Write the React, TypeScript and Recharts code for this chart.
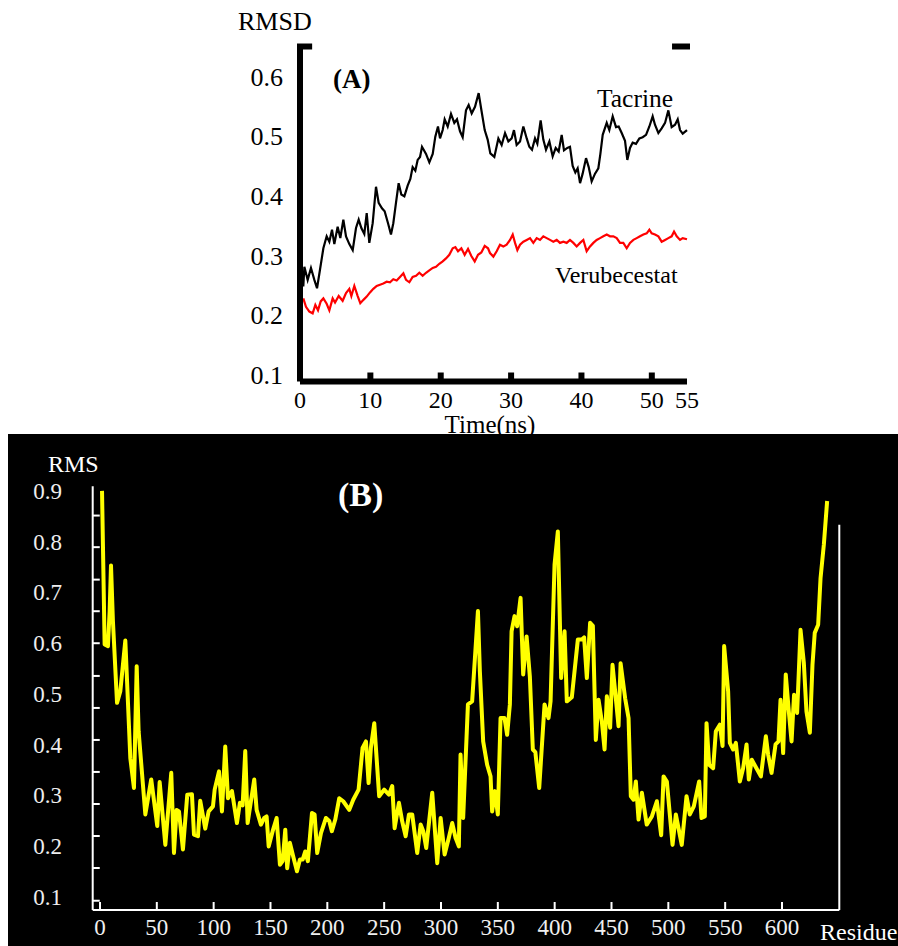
import { LineChart, Line, XAxis, YAxis, ReferenceLine } from "recharts";

const SERIF = '"Liberation Serif", "Times New Roman", serif';

// ---- (A) RMSD over time ----
const timeTicks = [0, 10, 20, 30, 40, 50, 55];
const rmsdTicks = [0.1, 0.2, 0.3, 0.4, 0.5, 0.6];
const timeDomain: [number, number] = [0, 55];
const rmsdDomain: [number, number] = [0.0888, 0.65];

// [time ns, rmsd]
const tacrineRmsd: [number, number][] = [
  [0.47, 0.248], [0.62, 0.281], [1.09, 0.259], [1.56, 0.279], [2.04, 0.259], [2.42, 0.245], [2.84, 0.276],
  [3.32, 0.312], [3.79, 0.332], [4.17, 0.323], [4.55, 0.343], [4.88, 0.319], [5.35, 0.348], [5.73, 0.329],
  [6.16, 0.36], [6.54, 0.332], [7.01, 0.319], [7.49, 0.309], [7.96, 0.346], [8.34, 0.36], [8.72, 0.346],
  [9.14, 0.336], [9.48, 0.371], [9.85, 0.321], [10.33, 0.354], [10.8, 0.415], [11.18, 0.388], [11.65, 0.379],
  [12.03, 0.374], [12.51, 0.354], [12.93, 0.335], [13.26, 0.354], [13.64, 0.388], [14.02, 0.421], [14.4, 0.402],
  [14.83, 0.399], [15.3, 0.417], [15.68, 0.428], [16.01, 0.448], [16.39, 0.442], [16.72, 0.46], [17.06, 0.465],
  [17.34, 0.482], [17.91, 0.47], [18.38, 0.456], [18.86, 0.47], [19.23, 0.499], [19.61, 0.516], [19.9, 0.496],
  [20.28, 0.51], [20.56, 0.528], [20.99, 0.516], [21.46, 0.537], [21.93, 0.522], [22.31, 0.528], [22.74, 0.508],
  [23.12, 0.498], [23.59, 0.543], [23.97, 0.552], [24.4, 0.538], [24.87, 0.549], [25.39, 0.572], [25.77, 0.544],
  [26.25, 0.51], [26.67, 0.494], [27.05, 0.471], [27.62, 0.465], [28.19, 0.496], [28.66, 0.485], [29.14, 0.505],
  [29.61, 0.491], [30.08, 0.496], [30.41, 0.51], [30.79, 0.485], [31.27, 0.491], [31.74, 0.516], [32.22, 0.496],
  [32.59, 0.482], [32.97, 0.477], [33.4, 0.496], [33.73, 0.487], [34.2, 0.526], [34.58, 0.494], [34.96, 0.477],
  [35.44, 0.491], [35.91, 0.466], [36.34, 0.48], [36.76, 0.474], [37.19, 0.502], [37.52, 0.476], [37.99, 0.48],
  [38.37, 0.482], [38.75, 0.45], [39.13, 0.439], [39.46, 0.446], [39.8, 0.421], [40.17, 0.437], [40.65, 0.463],
  [41.03, 0.448], [41.45, 0.424], [41.93, 0.437], [42.4, 0.446], [42.69, 0.47], [43.02, 0.502], [43.59, 0.522],
  [43.96, 0.51], [44.44, 0.533], [44.91, 0.515], [45.29, 0.516], [45.72, 0.505], [46.19, 0.492], [46.52, 0.46],
  [46.9, 0.48], [47.28, 0.489], [47.75, 0.487], [48.23, 0.496], [48.7, 0.498], [49.18, 0.502], [49.65, 0.516],
  [50.12, 0.533], [50.45, 0.519], [50.93, 0.505], [51.4, 0.513], [51.88, 0.522], [52.35, 0.543], [52.82, 0.515],
  [53.3, 0.519], [53.68, 0.528], [54.01, 0.51], [54.39, 0.504], [55, 0.51],
];

const verubecestatRmsd: [number, number][] = [
  [0.47, 0.228], [0.85, 0.214], [1.33, 0.206], [1.8, 0.203], [2.18, 0.217], [2.56, 0.208], [2.94, 0.223],
  [3.32, 0.228], [3.79, 0.219], [4.17, 0.208], [4.64, 0.228], [4.98, 0.221], [5.5, 0.232], [6.06, 0.224],
  [6.54, 0.237], [7.01, 0.244], [7.3, 0.232], [7.72, 0.249], [8.2, 0.232], [8.57, 0.22], [9.05, 0.226],
  [9.48, 0.231], [9.95, 0.238], [10.42, 0.244], [10.9, 0.249], [11.37, 0.251], [11.84, 0.253], [12.32, 0.256],
  [12.79, 0.255], [13.26, 0.26], [13.74, 0.258], [14.21, 0.264], [14.69, 0.27], [15.07, 0.259], [15.54, 0.255],
  [16.01, 0.264], [16.49, 0.266], [16.96, 0.271], [17.43, 0.266], [17.91, 0.271], [18.38, 0.275], [18.86, 0.279],
  [19.33, 0.281], [19.8, 0.286], [20.28, 0.29], [20.75, 0.295], [21.22, 0.301], [21.7, 0.312], [22.08, 0.314],
  [22.46, 0.307], [22.93, 0.312], [23.4, 0.301], [23.88, 0.311], [24.35, 0.299], [24.83, 0.29], [25.3, 0.301],
  [25.77, 0.305], [26.25, 0.316], [26.72, 0.312], [27.0, 0.304], [27.48, 0.298], [27.95, 0.307], [28.42, 0.318],
  [28.9, 0.315], [29.37, 0.318], [29.85, 0.326], [30.23, 0.335], [30.56, 0.321], [30.89, 0.309], [31.27, 0.318],
  [31.74, 0.323], [32.22, 0.326], [32.69, 0.329], [33.16, 0.321], [33.64, 0.329], [34.11, 0.326], [34.58, 0.332],
  [35.06, 0.329], [35.53, 0.326], [36.0, 0.323], [36.48, 0.326], [36.95, 0.321], [37.43, 0.323], [37.9, 0.321],
  [38.37, 0.326], [38.85, 0.321], [39.32, 0.315], [39.8, 0.321], [40.27, 0.326], [40.74, 0.307], [41.22, 0.315],
  [41.69, 0.321], [42.16, 0.326], [42.64, 0.329], [43.11, 0.332], [43.59, 0.335], [44.06, 0.332], [44.53, 0.332],
  [45.01, 0.329], [45.48, 0.321], [45.95, 0.321], [46.43, 0.312], [46.9, 0.321], [47.38, 0.326], [47.85, 0.329],
  [48.32, 0.332], [48.8, 0.335], [49.27, 0.337], [49.65, 0.343], [49.98, 0.337], [50.45, 0.335], [50.93, 0.332],
  [51.4, 0.323], [51.88, 0.326], [52.35, 0.329], [52.82, 0.332], [53.16, 0.34], [53.54, 0.332], [54.01, 0.326],
  [54.39, 0.329], [55, 0.327],
];

// ---- (B) RMS per residue ----
const residueTicks = [0, 50, 100, 150, 200, 250, 300, 350, 400, 450, 500, 550, 600];
const rmsTicks = [0.1, 0.2, 0.3, 0.4, 0.5, 0.6, 0.7, 0.8, 0.9];
// the small marks on the left axis don't line up with the labels
const rmsMinorMarks = [0.0919, 0.1564, 0.2195, 0.2826, 0.3458, 0.4089, 0.472, 0.5351, 0.5996, 0.6627, 0.725, 0.789, 0.8513];
const residueDomain: [number, number] = [-6.4, 650.4];
const rmsDomain: [number, number] = [0.0736, 0.909];

// [residue, rms]
const residueRms: [number, number][] = [
  [1.8, 0.9], [4.1, 0.597], [7.0, 0.594], [8.5, 0.663], [9.7, 0.753], [11.4, 0.643], [15.0, 0.482], [17.9, 0.505],
  [22.3, 0.605], [26.7, 0.373], [29.9, 0.314], [32.3, 0.554], [34.0, 0.426], [39.9, 0.262], [45.1, 0.331],
  [50.4, 0.239], [52.5, 0.326], [57.5, 0.202], [62.7, 0.344], [65.1, 0.186], [67.4, 0.271], [69.5, 0.268],
  [73.0, 0.193], [76.8, 0.301], [80.9, 0.302], [82.7, 0.222], [86.2, 0.219], [88.2, 0.289], [92.6, 0.234],
  [95.6, 0.268], [99.4, 0.278], [100.9, 0.311], [104.7, 0.347], [107.3, 0.268], [110.2, 0.396], [112.6, 0.294],
  [116.1, 0.308], [120.5, 0.245], [123.1, 0.285], [125.5, 0.28], [127.8, 0.387], [129.9, 0.245], [132.8, 0.288],
  [135.7, 0.331], [137.8, 0.271], [141.6, 0.242], [144.5, 0.255], [146.6, 0.258], [148.4, 0.199], [151.9, 0.229],
  [155.4, 0.255], [158.3, 0.163], [160.7, 0.17], [163.0, 0.232], [164.7, 0.156], [167.1, 0.206], [170.0, 0.179],
  [173.3, 0.15], [175.9, 0.173], [178.3, 0.173], [180.6, 0.189], [182.9, 0.17], [186.5, 0.265], [188.8, 0.262],
  [191.1, 0.186], [194.4, 0.225], [198.8, 0.255], [201.7, 0.249], [204.0, 0.229], [207.0, 0.252], [210.5, 0.294],
  [214.0, 0.288], [219.3, 0.271], [222.8, 0.291], [227.5, 0.311], [231.0, 0.393], [234.0, 0.406], [236.3, 0.324],
  [238.3, 0.393], [241.3, 0.442], [245.6, 0.298], [250.0, 0.311], [254.2, 0.301], [257.1, 0.318], [259.2, 0.235],
  [263.0, 0.285], [265.9, 0.248], [268.9, 0.219], [271.8, 0.262], [274.7, 0.262], [279.1, 0.186], [282.1, 0.242],
  [284.4, 0.229], [287.0, 0.196], [292.3, 0.305], [296.7, 0.166], [299.7, 0.255], [303.2, 0.183], [306.9, 0.216],
  [309.9, 0.245], [312.8, 0.216], [315.7, 0.199], [317.2, 0.38], [319.5, 0.255], [323.7, 0.479], [327.4, 0.485],
  [332.5, 0.663], [334.2, 0.544], [337.1, 0.406], [340.6, 0.36], [343.6, 0.337], [345.0, 0.268], [347.4, 0.308],
  [350.0, 0.262], [352.4, 0.452], [355.9, 0.452], [358.2, 0.419], [360.6, 0.479], [362.1, 0.623], [364.7, 0.653],
  [367.0, 0.633], [370.0, 0.689], [372.3, 0.538], [375.3, 0.613], [378.2, 0.533], [380.8, 0.39], [383.0, 0.385],
  [386.4, 0.314], [391.1, 0.479], [394.6, 0.452], [396.4, 0.485], [399.9, 0.755], [402.8, 0.82], [405.7, 0.531],
  [408.7, 0.623], [410.7, 0.485], [415.1, 0.493], [420.4, 0.607], [423.9, 0.607], [425.9, 0.611], [428.3, 0.531],
  [431.2, 0.64], [433.6, 0.634], [436.2, 0.409], [438.6, 0.488], [441.5, 0.445], [443.9, 0.39], [445.9, 0.495],
  [448.8, 0.433], [450.9, 0.557], [453.2, 0.505], [456.2, 0.436], [458.0, 0.56], [462.0, 0.491], [465.0, 0.452],
  [467.0, 0.298], [469.4, 0.291], [471.4, 0.327], [473.8, 0.252], [476.7, 0.305], [481.0, 0.242], [485.5, 0.258],
  [489.9, 0.288], [493.7, 0.221], [495.8, 0.337], [498.7, 0.327], [503.7, 0.202], [506.6, 0.262], [511.8, 0.202],
  [516.0, 0.298], [518.9, 0.262], [522.4, 0.278], [527.1, 0.327], [529.2, 0.255], [532.1, 0.258], [533.6, 0.442],
  [535.9, 0.36], [539.4, 0.353], [541.8, 0.426], [545.3, 0.439], [547.7, 0.397], [549.1, 0.594], [552.6, 0.505],
  [554.1, 0.403], [557.0, 0.39], [559.4, 0.403], [562.9, 0.327], [565.8, 0.353], [568.8, 0.4], [570.8, 0.331],
  [573.4, 0.37], [577.5, 0.353], [581.4, 0.337], [585.8, 0.416], [587.8, 0.38], [590.8, 0.344], [594.3, 0.4],
  [596.9, 0.406], [598.7, 0.488], [601.0, 0.383], [603.3, 0.538], [606.0, 0.465], [608.4, 0.406], [610.6, 0.498],
  [613.3, 0.462], [616.3, 0.626], [619.2, 0.561], [621.5, 0.465], [624.5, 0.423], [626.8, 0.557], [628.8, 0.62],
  [631.8, 0.636], [633.9, 0.728], [636.8, 0.794], [639.7, 0.88],
];

const tacrineData = tacrineRmsd.map(([t, v]) => ({ t, v }));
const verubecestatData = verubecestatRmsd.map(([t, v]) => ({ t, v }));
const residueData = residueRms.map(([r, v]) => ({ r, v }));

// bottom ticks of (A): thick marks pointing into the plot, label underneath
function TimeTick(props: any) {
  const { x, y, payload } = props;
  const v = payload.value;
  const inner = v > timeDomain[0] && v < timeDomain[1];
  return (
    <g>
      {inner && <line x1={x} x2={x} y1={y} y2={y - 9} stroke="#000" strokeWidth={6} />}
      <text x={x} y={y + 26} textAnchor="middle" fontSize={24} fontFamily={SERIF} fill="#000">
        {v}
      </text>
    </g>
  );
}

function ResidueTick(props: any) {
  const { x, y, payload } = props;
  return (
    <g>
      <line x1={x} x2={x} y1={y} y2={y - 8} stroke="#fff" strokeWidth={2} />
      <text x={x} y={y + 25} textAnchor="middle" fontSize={23} fontFamily={SERIF} fill="#f0f0f0">
        {payload.value}
      </text>
    </g>
  );
}

function ChartA() {
  return (
    <LineChart width={898} height={434} margin={{ top: 46.5, right: 211, bottom: 0, left: 240 }}>
      <XAxis
        type="number"
        dataKey="t"
        domain={timeDomain}
        ticks={timeTicks}
        interval={0}
        height={52.5}
        tickSize={0}
        tickMargin={0}
        tickLine={false}
        axisLine={{ stroke: "#000", strokeWidth: 6 }}
        tick={<TimeTick />}
      />
      <YAxis
        yAxisId="a"
        type="number"
        domain={rmsdDomain}
        allowDataOverflow
        ticks={rmsdTicks}
        interval={0}
        width={60}
        tickSize={0}
        tickMargin={17}
        tickLine={false}
        axisLine={{ stroke: "#000", strokeWidth: 6 }}
        tick={{ fill: "#000", fontSize: 26, fontFamily: SERIF }}
      />
      <YAxis
        yAxisId="aRight"
        orientation="right"
        type="number"
        domain={rmsdDomain}
        allowDataOverflow
        width={0}
        tick={false}
        tickLine={false}
        axisLine={{ stroke: "#000", strokeWidth: 6 }}
      />
      <ReferenceLine
        yAxisId="a"
        ifOverflow="visible"
        segment={[{ x: 0, y: rmsdDomain[1] }, { x: 1.3, y: rmsdDomain[1] }]}
        stroke="#000"
        strokeWidth={6}
        strokeLinecap="square"
      />
      <ReferenceLine
        yAxisId="a"
        ifOverflow="visible"
        segment={[{ x: 53.3, y: rmsdDomain[1] }, { x: 55, y: rmsdDomain[1] }]}
        stroke="#000"
        strokeWidth={6}
        strokeLinecap="square"
      />
      <Line
        yAxisId="a"
        data={verubecestatData}
        dataKey="v"
        type="linear"
        stroke="#ff0000"
        strokeWidth={2.2}
        dot={false}
        activeDot={false}
        isAnimationActive={false}
      />
      <Line
        yAxisId="a"
        data={tacrineData}
        dataKey="v"
        type="linear"
        stroke="#000"
        strokeWidth={2.2}
        dot={false}
        activeDot={false}
        isAnimationActive={false}
      />
      <text x={238} y={30} fontSize={26} fontFamily={SERIF} fill="#000">RMSD</text>
      <text x={333} y={88} fontSize={27} fontWeight="bold" fontFamily={SERIF} fill="#000">(A)</text>
      <text x={597} y={107} fontSize={25.5} fontFamily={SERIF} fill="#000">Tacrine</text>
      <text x={555} y={283} fontSize={24} fontFamily={SERIF} fill="#000">Verubecestat</text>
      <text x={490} y={433} textAnchor="middle" fontSize={25} fontFamily={SERIF} fill="#000">Time(ns)</text>
    </LineChart>
  );
}

function ChartB() {
  return (
    <LineChart
      width={890}
      height={512}
      data={residueData}
      margin={{ top: 52.3, right: 58.7, bottom: 0, left: 34.7 }}
    >
      <XAxis
        type="number"
        dataKey="r"
        domain={residueDomain}
        allowDataOverflow
        ticks={residueTicks}
        interval={0}
        height={36}
        tickSize={0}
        tickMargin={0}
        tickLine={false}
        axisLine={{ stroke: "#fff", strokeWidth: 2 }}
        tick={<ResidueTick />}
      />
      <YAxis
        yAxisId="rms"
        type="number"
        domain={rmsDomain}
        allowDataOverflow
        ticks={rmsTicks}
        interval={0}
        width={50}
        tickSize={0}
        tickMargin={30.7}
        tickLine={false}
        axisLine={{ stroke: "#fff", strokeWidth: 2 }}
        tick={{ fill: "#eeeeee", fontSize: 23, fontFamily: SERIF }}
      />
      {rmsMinorMarks.map((v) => (
        <ReferenceLine
          key={v}
          yAxisId="rms"
          ifOverflow="visible"
          segment={[{ x: residueDomain[0], y: v }, { x: residueDomain[0] + 6.2, y: v }]}
          stroke="#fff"
          strokeWidth={2}
        />
      ))}
      <ReferenceLine
        yAxisId="rms"
        ifOverflow="visible"
        segment={[{ x: residueDomain[1], y: 0.833 }, { x: residueDomain[1], y: rmsDomain[0] }]}
        stroke="#fff"
        strokeWidth={2}
      />
      <Line
        yAxisId="rms"
        dataKey="v"
        type="linear"
        stroke="#ffff00"
        strokeWidth={4}
        strokeLinejoin="round"
        dot={false}
        activeDot={false}
        isAnimationActive={false}
      />
      <text x={40} y={38} fontSize={24} fontFamily={SERIF} fill="#fff">RMS</text>
      <text x={330} y={72} fontSize={34} fontWeight="bold" fontFamily={SERIF} fill="#fff">(B)</text>
      <text x={812} y={506} fontSize={24} fontFamily={SERIF} fill="#fff">Residue</text>
    </LineChart>
  );
}

export default function App() {
  return (
    <div style={{ position: "absolute", left: 0, top: 0, width: 898, height: 946, background: "#fff", overflow: "hidden" }}>
      <div style={{ position: "absolute", left: 0, top: 0, width: 898, height: 434 }}>
        <ChartA />
      </div>
      <div style={{ position: "absolute", left: 8, top: 434, width: 890, height: 512, background: "#000" }}>
        <ChartB />
      </div>
    </div>
  );
}
